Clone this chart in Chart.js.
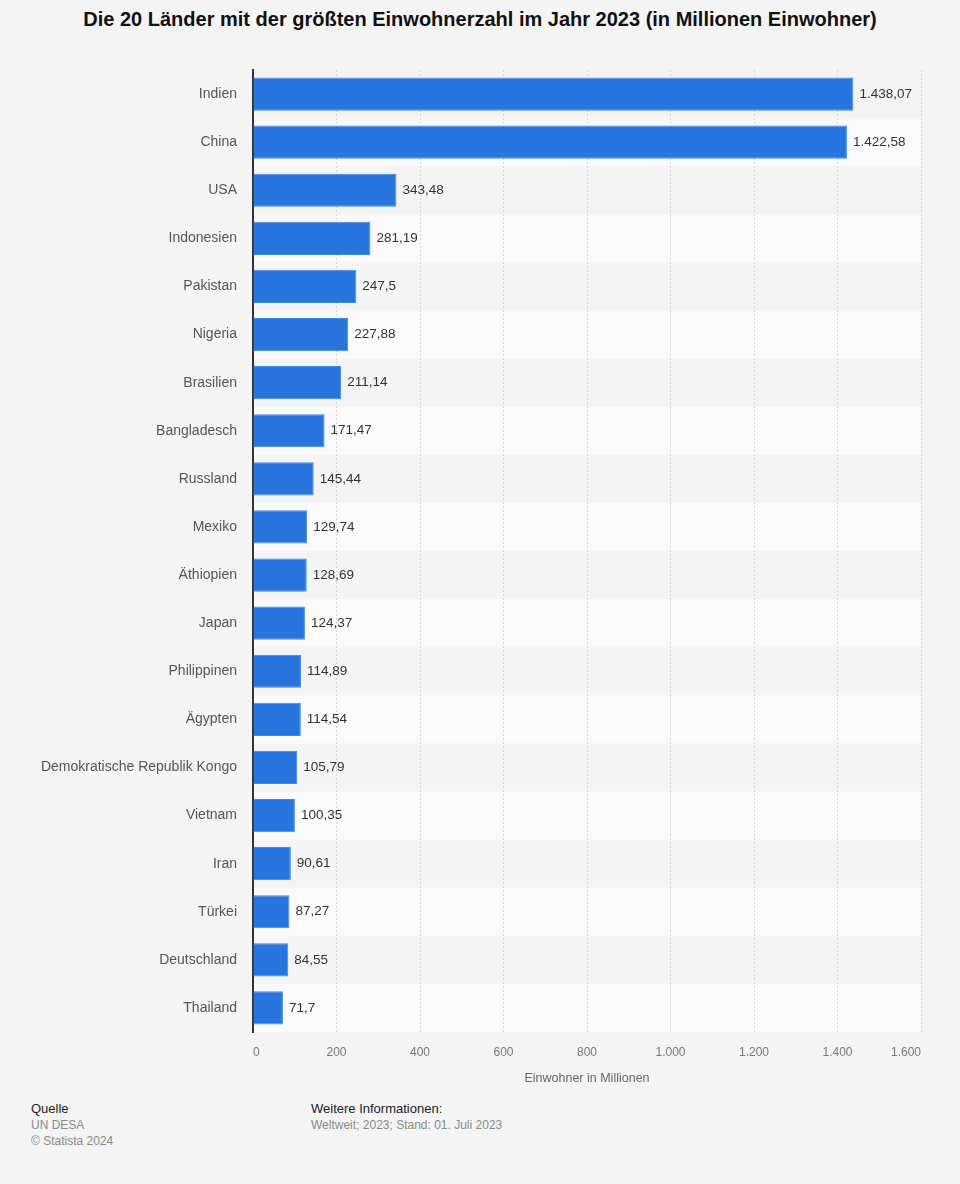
<!DOCTYPE html>
<html>
<head>
<meta charset="utf-8">
<script src="https://cdn.jsdelivr.net/npm/chart.js@4/dist/chart.umd.min.js"></script>
<style>
  body { margin: 0; background: #f4f4f4; font-family: "Liberation Sans", Arial, sans-serif; }
  #wrap { position: relative; width: 960px; height: 1184px; }
  #title { position: absolute; top: 8px; left: 0; width: 960px; text-align: center; font-size: 20px; font-weight: bold; color: #111; }
  #chart { position: absolute; left: 0; top: 0; }
  .foot { position: absolute; font-size: 13px; line-height: 16px; }
  .foot .h { color: #222; }
  .foot .g { color: #8a8a8a; font-size: 12px; }
</style>
</head>
<body>
<div id="wrap">
  <div id="title">Die 20 Länder mit der größten Einwohnerzahl im Jahr 2023 (in Millionen Einwohner)</div>
  <canvas id="chart" width="960" height="1090"></canvas>
  <div class="foot" style="left:31px; top:1101px;">
    <div class="h">Quelle</div>
    <div class="g">UN DESA</div>
    <div class="g">© Statista 2024</div>
  </div>
  <div class="foot" style="left:311px; top:1101px;">
    <div class="h">Weitere Informationen:</div>
    <div class="g">Weltweit; 2023; Stand: 01. Juli 2023</div>
  </div>
</div>
<script>
// Daten
const countries = ['Indien', 'China', 'USA', 'Indonesien', 'Pakistan', 'Nigeria', 'Brasilien',
  'Bangladesch', 'Russland', 'Mexiko', 'Äthiopien', 'Japan', 'Philippinen', 'Ägypten',
  'Demokratische Republik Kongo', 'Vietnam', 'Iran', 'Türkei', 'Deutschland', 'Thailand'];
const population = [1438.07, 1422.58, 343.48, 281.19, 247.5, 227.88, 211.14, 171.47, 145.44,
  129.74, 128.69, 124.37, 114.89, 114.54, 105.79, 100.35, 90.61, 87.27, 84.55, 71.7];
const xTicks = [0, 200, 400, 600, 800, 1000, 1200, 1400, 1600];

// deutsche Zahlenformatierung
function formatDe(n) {
  let parts = String(n).split('.');
  let intPart = parts[0].replace(/\B(?=(\d{3})+(?!\d))/g, '.');
  return parts.length > 1 ? intPart + ',' + parts[1] : intPart;
}

const font = '"Liberation Sans", Arial, sans-serif';

// abwechselnde Zeilenhintergründe
const stripes = {
  id: 'stripes',
  beforeDraw(chart) {
    const ctx = chart.ctx;
    const area = chart.chartArea;
    const y = chart.scales.y;
    const step = (area.bottom - area.top) / countries.length;
    ctx.save();
    ctx.fillStyle = '#fafafa';
    for (let i = 1; i < countries.length; i += 2) {
      const c = y.getPixelForValue(i);
      ctx.fillRect(area.left, c - step / 2, area.right - area.left, step);
    }
    ctx.restore();
  }
};

// Werte rechts neben den Balken
const valueLabels = {
  id: 'valueLabels',
  afterDatasetsDraw(chart) {
    const ctx = chart.ctx;
    const meta = chart.getDatasetMeta(0);
    ctx.save();
    ctx.font = '13.5px ' + font;
    ctx.fillStyle = '#333';
    ctx.textAlign = 'left';
    ctx.textBaseline = 'middle';
    meta.data.forEach((bar, i) => {
      ctx.fillText(formatDe(population[i]), bar.x + 6, bar.y);
    });
    ctx.restore();
  }
};

new Chart(document.getElementById('chart'), {
  type: 'bar',
  data: {
    labels: countries,
    datasets: [{
      data: population,
      backgroundColor: '#2876dd',
      borderColor: '#3f88e4',
      borderWidth: 1,
      barPercentage: 0.69,
      categoryPercentage: 1
    }]
  },
  options: {
    indexAxis: 'y',
    responsive: false,
    animation: false,
    layout: { padding: { top: 70, right: 39, left: 0, bottom: 0 } },
    plugins: {
      legend: { display: false },
      tooltip: { enabled: false },
      title: { display: false }
    },
    scales: {
      x: {
        min: 0,
        max: 1600,
        afterBuildTicks(scale) {
          scale.ticks = xTicks.map(v => ({ value: v }));
        },
        afterFit(scale) { scale.height = 58; },
        grid: { color: '#d6d6d6', lineWidth: 1, drawTicks: false },
        border: { display: false, dash: [2, 2] },
        ticks: {
          padding: 13,
          align: 'inner',
          color: '#777',
          font: { family: font, size: 12 },
          callback: v => formatDe(v)
        },
        title: {
          display: true,
          text: 'Einwohner in Millionen',
          color: '#666',
          font: { family: font, size: 12.5 },
          padding: { top: 2 }
        }
      },
      y: {
        afterFit(scale) { scale.width = 253; },
        grid: { display: false },
        border: { display: true, color: '#333', width: 2 },
        ticks: {
          padding: 8,
          color: '#555',
          font: { family: font, size: 14 }
        }
      }
    }
  },
  plugins: [stripes, valueLabels]
});
</script>
</body>
</html>
